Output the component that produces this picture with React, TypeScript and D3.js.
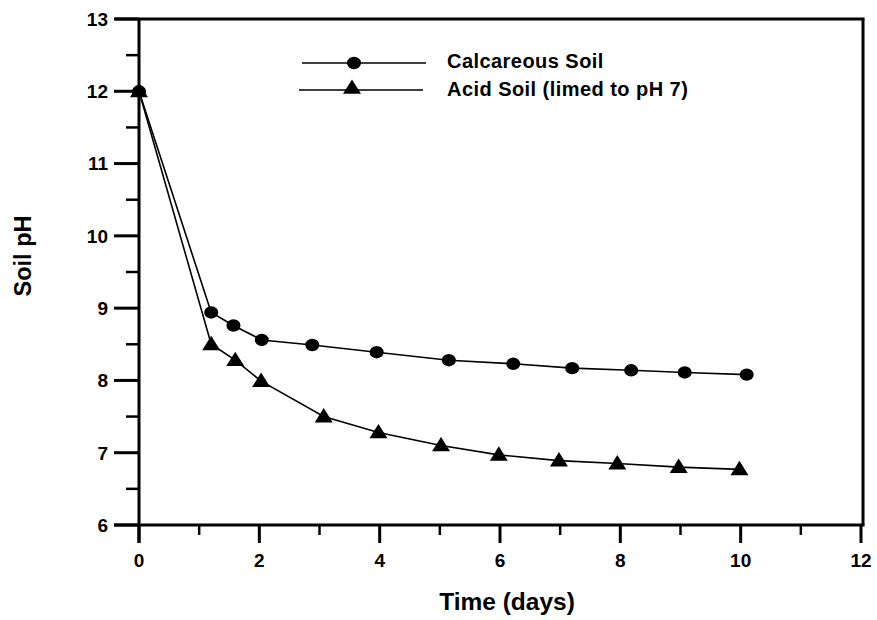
import React from "react";
import * as d3 from "d3";

const timeCalc = [0, 1.2, 1.57, 2.04, 2.88, 3.95, 5.15, 6.22, 7.2, 8.18, 9.07, 10.1];
const phCalc = [12.0, 8.94, 8.76, 8.56, 8.49, 8.39, 8.28, 8.23, 8.17, 8.14, 8.11, 8.08];
const timeAcid = [0, 1.2, 1.6, 2.03, 3.07, 3.98, 5.02, 5.98, 6.98, 7.95, 8.97, 9.98];
const phAcid = [12.0, 8.5, 8.28, 7.99, 7.5, 7.28, 7.1, 6.97, 6.89, 6.85, 6.8, 6.77];
const xTicks = [0, 2, 4, 6, 8, 10, 12];
const xMinor = [1, 3, 5, 7, 9, 11];
const yTicks = [6, 7, 8, 9, 10, 11, 12, 13];
const yMinor = [6.5, 7.5, 8.5, 9.5, 10.5, 11.5, 12.5];
const legendLabels = ["Calcareous Soil", "Acid Soil (limed to pH 7)"];

const W = 877;
const H = 620;
const L = 139, R = 863, T = 19, B = 525;
const FONT = "'Liberation Sans', Arial, Helvetica, sans-serif";

export default function App() {
  const x = d3.scaleLinear().domain([0, 12]).range([L, 861]);
  const y = d3.scaleLinear().domain([6, 13]).range([B, T]);
  const line = d3.line<[number, number]>().x((d) => x(d[0])).y((d) => y(d[1]));
  const calc: [number, number][] = timeCalc.map((t, i) => [t, phCalc[i]]);
  const acid: [number, number][] = timeAcid.map((t, i) => [t, phAcid[i]]);
  const tri = (cx: number, cy: number, s = 9) =>
    `M${cx},${cy - s * 0.95}L${cx + s},${cy + s * 0.65}L${cx - s},${cy + s * 0.65}Z`;

  return (
    <svg width={W} height={H} style={{ position: "absolute", left: 0, top: 0, background: "#fff" }}>
      <rect x={0} y={0} width={W} height={H} fill="#fff" />
      {/* frame */}
      <line x1={115} x2={R + 1.5} y1={T} y2={T} stroke="#000" strokeWidth={3} />
      <line x1={R} x2={R} y1={T} y2={B} stroke="#000" strokeWidth={3} />
      <line x1={114} x2={R + 1.5} y1={B} y2={B} stroke="#000" strokeWidth={3} />
      <line x1={L} x2={L} y1={T} y2={543} stroke="#000" strokeWidth={3} />
      {/* y ticks */}
      {yTicks.map((v) => (
        <g key={"y" + v}>
          <line x1={114} x2={L} y1={y(v)} y2={y(v)} stroke="#000" strokeWidth={3} />
          <text x={108} y={y(v)} dy="0.36em" textAnchor="end" fontFamily={FONT} fontWeight={700} fontSize={19}>
            {v}
          </text>
        </g>
      ))}
      {yMinor.map((v) => (
        <line key={"ym" + v} x1={126} x2={L} y1={y(v)} y2={y(v)} stroke="#000" strokeWidth={2.5} />
      ))}
      {/* x ticks */}
      {xTicks.map((v) => (
        <g key={"x" + v}>
          <line x1={x(v)} x2={x(v)} y1={B} y2={543} stroke="#000" strokeWidth={3} />
          <text x={x(v)} y={567} textAnchor="middle" fontFamily={FONT} fontWeight={700} fontSize={19}>
            {v}
          </text>
        </g>
      ))}
      {xMinor.map((v) => (
        <line key={"xm" + v} x1={x(v)} x2={x(v)} y1={B} y2={535} stroke="#000" strokeWidth={2.5} />
      ))}
      {/* axis titles */}
      <text x={507} y={610} textAnchor="middle" fontFamily={FONT} fontWeight={700} fontSize={24.5}>
        Time (days)
      </text>
      <text
        transform={`translate(31,256) rotate(-90)`}
        textAnchor="middle"
        fontFamily={FONT}
        fontWeight={700}
        fontSize={23.5}
      >
        Soil pH
      </text>
      {/* series */}
      <path d={line(calc) || ""} fill="none" stroke="#000" strokeWidth={1.6} />
      <path d={line(acid) || ""} fill="none" stroke="#000" strokeWidth={1.6} />
      {calc.map((d, i) => (
        <ellipse key={"c" + i} cx={x(d[0])} cy={y(d[1])} rx={7} ry={6.2} fill="#000" />
      ))}
      {acid.map((d, i) => (
        <path key={"a" + i} d={tri(x(d[0]), y(d[1]))} fill="#000" />
      ))}
      {/* legend */}
      <line x1={302} x2={426} y1={63} y2={63} stroke="#000" strokeWidth={1.6} />
      <ellipse cx={354} cy={63} rx={7} ry={6.2} fill="#000" />
      <text x={447} y={68} fontFamily={FONT} fontWeight={700} fontSize={20} letterSpacing={0.45}>
        {legendLabels[0]}
      </text>
      <line x1={299} x2={423} y1={90} y2={90} stroke="#000" strokeWidth={1.6} />
      <path d={tri(352, 88)} fill="#000" />
      <text x={447} y={96} fontFamily={FONT} fontWeight={700} fontSize={20} letterSpacing={0.45}>
        {legendLabels[1]}
      </text>
    </svg>
  );
}
